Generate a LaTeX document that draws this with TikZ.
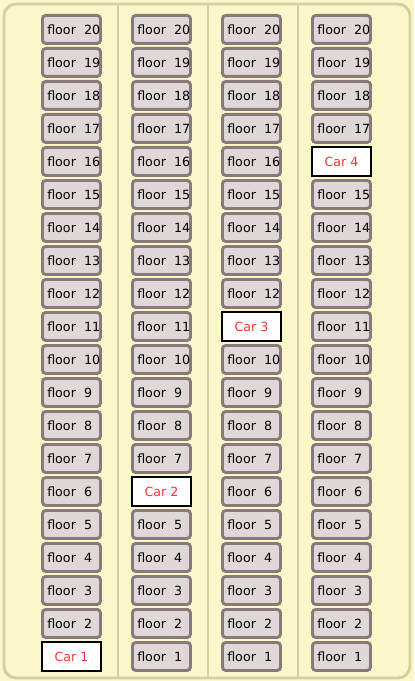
\documentclass[tikz,border=0pt]{standalone}
\usepackage{fontspec}
\setmainfont{DejaVu Sans}
\definecolor{khaki}{HTML}{D4D0A4}
\definecolor{paneyel}{HTML}{FAF7C9}
\definecolor{boxfill}{HTML}{E0D8D8}
\definecolor{boxline}{HTML}{887A7A}
\definecolor{carred}{HTML}{FF3333}
\begin{document}
\begin{tikzpicture}[x=0.75pt,y=-0.75pt,
  floorbox/.style={draw=boxline,fill=boxfill,line width=2.2pt,rounded corners=2.5pt,
    minimum width=58*0.75pt,minimum height=28*0.75pt,inner sep=0pt,anchor=north west},
  carbox/.style={draw=black,fill=white,line width=1.5pt,
    minimum width=59*0.75pt,minimum height=29*0.75pt,inner sep=0pt,anchor=north west,
    text=carred,font=\fontsize{9.5}{10}\selectfont},
  flabel/.style={anchor=west,inner sep=0pt,font=\fontsize{9.5}{10}\selectfont},
  sepline/.style={draw=khaki,line width=2.2pt}]
\fill[paneyel] (0,0) rectangle (414,681);
\useasboundingbox (0,0) rectangle (414,681);
\draw[khaki,line width=2.2pt,rounded corners=9pt] (4,4) rectangle (410,678);
\foreach \sx in {118,208,298}{
  \draw[sepline] (\sx,4) -- (\sx,678);
}
% columns: index, x-left, car floor
\foreach \c/\cx/\cf in {1/41/1,2/131/6,3/221/11,4/311/16}{
  \foreach \n in {1,...,20}{
    \pgfmathtruncatemacro{\ty}{14+(20-\n)*33}
    \ifnum\n=\cf
      \node[carbox] (car\c) at (\cx,\ty) {Car \c};
    \else
      \node[floorbox] (f\c-\n) at (\cx,\ty) {};
      \node[flabel] (t\c-\n) at ([xshift=4.5pt]f\c-\n.west) {floor\ \ \n};
    \fi
  }
}
\end{tikzpicture}
\end{document}
